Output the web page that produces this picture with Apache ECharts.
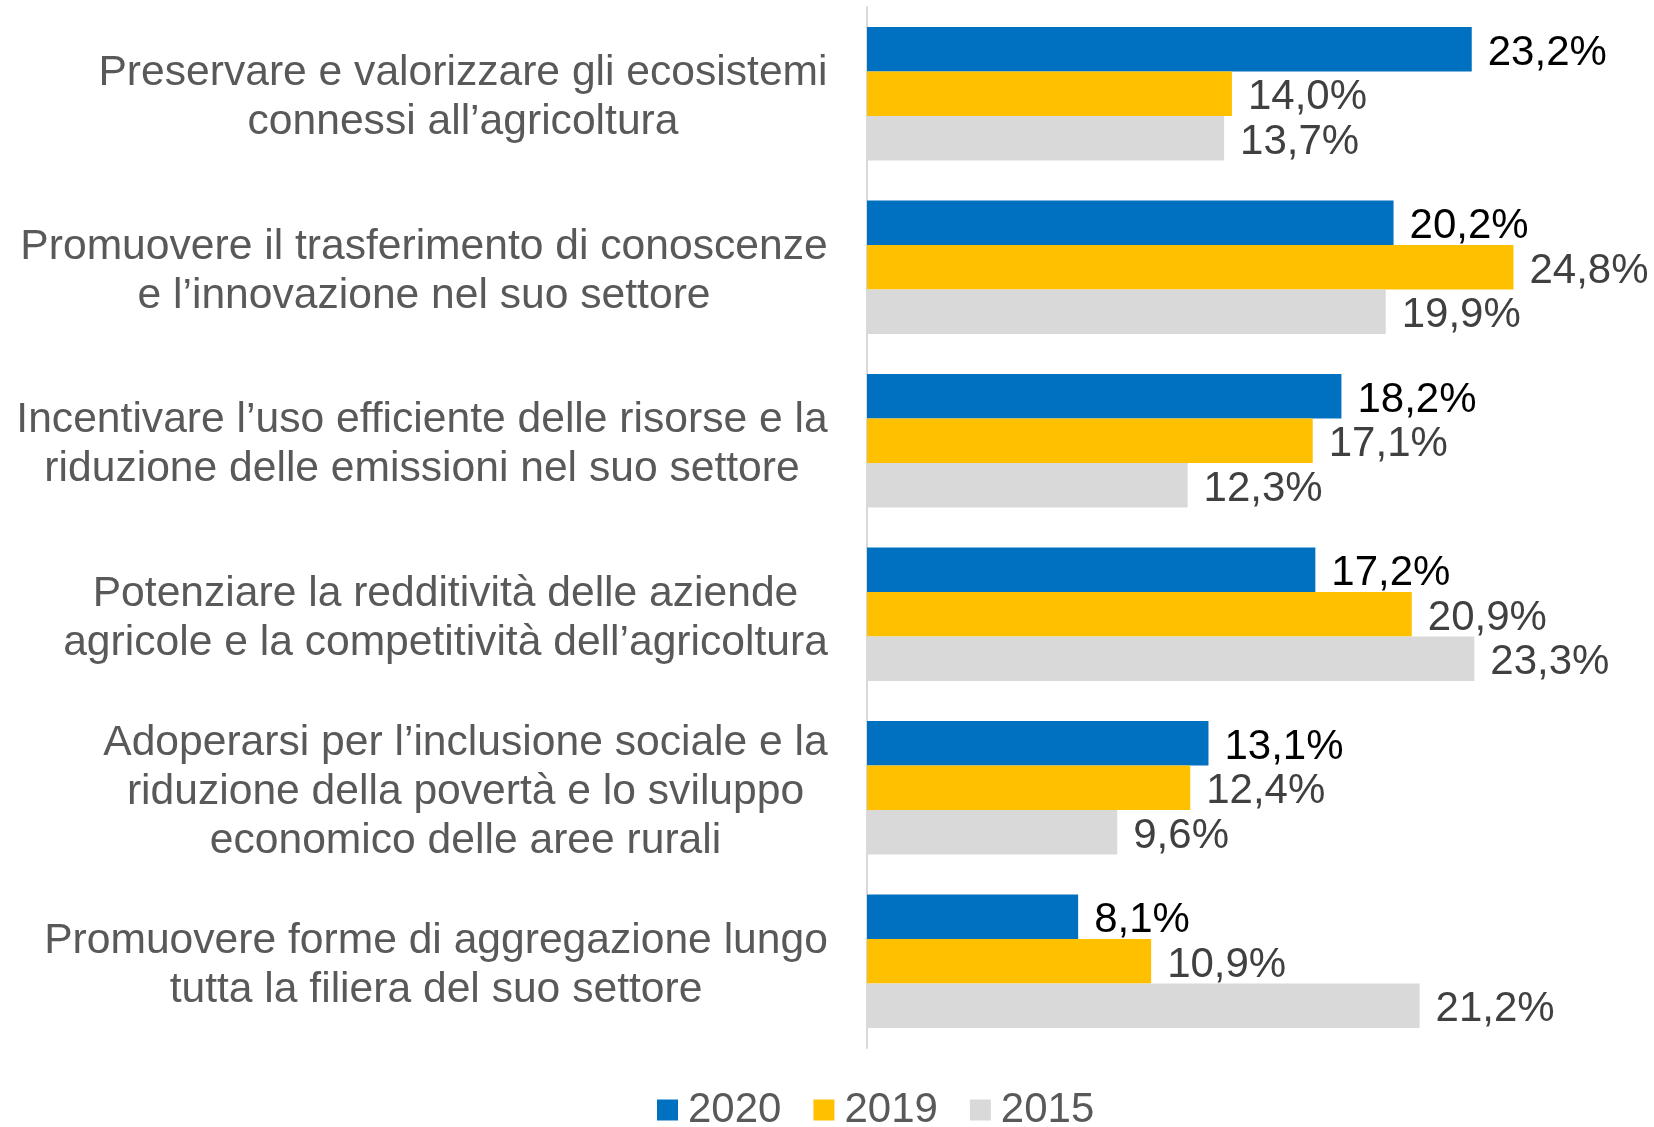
<!DOCTYPE html>
<html>
<head>
<meta charset="utf-8">
<script src="https://cdn.jsdelivr.net/npm/echarts@6/dist/echarts.min.js"></script>
<style>
  html, body { margin: 0; padding: 0; background: #fff; }
  #chart { width: 1654px; height: 1127px; }
</style>
</head>
<body>
<div id="chart"></div>
<script>
const categories = [
  ["Preservare e valorizzare gli ecosistemi", "connessi all’agricoltura"],
  ["Promuovere il trasferimento di conoscenze", "e l’innovazione nel suo settore"],
  ["Incentivare l’uso efficiente delle risorse e la", "riduzione delle emissioni nel suo settore"],
  ["Potenziare la redditività delle aziende", "agricole e la competitività dell’agricoltura"],
  ["Adoperarsi per l’inclusione sociale e la", "riduzione della povertà e lo sviluppo", "economico delle aree rurali"],
  ["Promuovere forme di aggregazione lungo", "tutta la filiera del suo settore"]
];
const seriesNames = ["2020", "2019", "2015"];
const values2020 = [23.2, 20.2, 18.2, 17.2, 13.1, 8.1];
const values2019 = [14.0, 24.8, 17.1, 20.9, 12.4, 10.9];
const values2015 = [13.7, 19.9, 12.3, 23.3, 9.6, 21.2];

const FONT = "Liberation Sans, Arial, sans-serif";
const colors = ["#0070c0", "#ffc000", "#d9d9d9"];
const labelColors = ["#000000", "#404040", "#404040"];

// measure each label block so lines can be centered inside a right-aligned box
const ctx = document.createElement("canvas").getContext("2d");
ctx.font = "42.6px " + FONT;
const rich = {};
categories.forEach((lines, i) => {
  const w = Math.max(...lines.map((l) => ctx.measureText(l).width));
  rich["c" + i] = { width: Math.ceil(w), align: "center", fontSize: 42.6, lineHeight: 49, color: "#595959", fontFamily: FONT };
});

const chart = echarts.init(document.getElementById("chart"));

const allValues = [values2020, values2019, values2015];
const fmt = (p) => p.value.toFixed(1).replace(".", ",") + "%";

chart.setOption({
  animation: false,
  grid: { left: 867, right: 5, top: 7, bottom: 79, containLabel: false },
  legend: {
    data: seriesNames,
    left: 652,
    top: 1084,
    icon: "rect",
    itemWidth: 21,
    itemHeight: 21,
    itemGap: 32,
    textStyle: { fontSize: 42, color: "#595959", fontFamily: FONT, padding: [0, 0, 0, 5] }
  },
  xAxis: {
    type: "value",
    min: 0,
    max: 30,
    show: false
  },
  yAxis: {
    type: "category",
    inverse: true,
    data: categories.map((_, i) => String(i)),
    axisLine: { show: true, lineStyle: { color: "#d9d9d9", width: 2 } },
    axisTick: { show: false },
    axisLabel: {
      margin: 39,
      padding: [8, 0, 0, 0],
      formatter: (v) => categories[+v].map((l) => "{c" + v + "|" + l + "}").join("\n"),
      rich: rich
    }
  },
  series: seriesNames.map((name, i) => ({
    name: name,
    type: "bar",
    data: allValues[i],
    barGap: "0%",
    barCategoryGap: "23%",
    itemStyle: { color: colors[i] },
    label: {
      show: true,
      position: "right",
      distance: 16,
      offset: [0, 4],
      formatter: fmt,
      fontSize: 42,
      fontFamily: FONT,
      color: labelColors[i]
    }
  }))
});
</script>
</body>
</html>
